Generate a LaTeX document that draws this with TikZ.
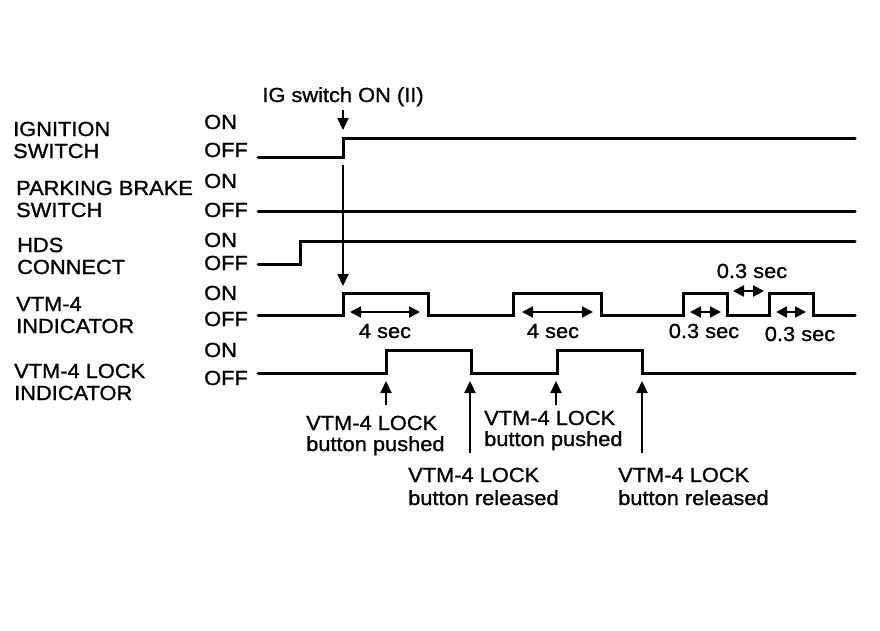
\documentclass[tikz,border=0pt]{standalone}
\usepackage{fontspec}
\setmainfont[FakeStretch=1.07,FakeBold=1.1]{Liberation Sans}
\usetikzlibrary{arrows.meta}
\begin{document}
\begin{tikzpicture}[x=1pt,y=-1pt,
  wave/.style={line width=3pt,line join=miter,line cap=round},
  lbl/.style={anchor=base west,inner sep=0pt,font=\fontsize{20.4}{22}\selectfont},
  st/.style={anchor=base west,inner sep=0pt,font=\fontsize{20.4}{22}\selectfont},
  sec/.style={anchor=base,inner sep=0pt,font=\fontsize{20.4}{22}\selectfont},
  bot/.style={anchor=base west,inner sep=0pt,font=\fontsize{20.4}{22}\selectfont},
  pt/.style={line width=2.2pt,-{Triangle[length=12pt,width=11pt]}},
  dim/.style={line width=2.2pt,{Triangle[length=11pt,width=11pt]}-{Triangle[length=11pt,width=11pt]}}]
\useasboundingbox (0,0) rectangle (880,630);
% left labels
\node[lbl] (l1a) at (13,136) {IGNITION};
\node[lbl] (l1b) at (13,158) {SWITCH};
\node[lbl] (l2a) at (16,195) {PARKING BRAKE};
\node[lbl] (l2b) at (16,217) {SWITCH};
\node[lbl] (l3a) at (17,252) {HDS};
\node[lbl] (l3b) at (17,274) {CONNECT};
\node[lbl] (l4a) at (16,311) {VTM-4};
\node[lbl] (l4b) at (16,333) {INDICATOR};
\node[lbl] (l5a) at (14,378) {VTM-4 LOCK};
\node[lbl] (l5b) at (14,400) {INDICATOR};
% ON/OFF
\node[st] (on1) at (204,129) {ON};
\node[st] (off1) at (204,157) {OFF};
\node[st] (on2) at (204,188) {ON};
\node[st] (off2) at (204,217) {OFF};
\node[st] (on3) at (204,247) {ON};
\node[st] (off3) at (204,270) {OFF};
\node[st] (on4) at (204,300) {ON};
\node[st] (off4) at (204,326) {OFF};
\node[st] (on5) at (204,357) {ON};
\node[st] (off5) at (204,385) {OFF};
% waveforms
\draw[wave] (258,157) -- (343,157) -- (343,138) -- (855,138);
\draw[wave] (258,211) -- (855,211);
\draw[wave] (258,264) -- (300,264) -- (300,241) -- (855,241);
\draw[wave] (258,315) -- (343,315) -- (343,293) -- (428,293) -- (428,315)
  -- (513,315) -- (513,293) -- (601,293) -- (601,315)
  -- (683,315) -- (683,293) -- (727,293) -- (727,315)
  -- (769,315) -- (769,293) -- (813,293) -- (813,315) -- (855,315);
\draw[wave] (258,373) -- (386,373) -- (386,350) -- (471,350) -- (471,373)
  -- (557,373) -- (557,350) -- (642,350) -- (642,373) -- (855,373);
% IG switch
\node[anchor=base,inner sep=0pt,font=\fontsize{20.4}{22}\selectfont] (ig) at (343,102) {IG switch ON (II)};
\coordinate (igtip) at (343,130);
\coordinate (vs) at (343,165);
\coordinate (vtip) at (343,286);
\draw[pt] (343,110) -- (igtip);
\draw[pt] (vs) -- (vtip);
% dimension arrows
\draw[dim] (350,312) -- (420,312);
\node[sec] (s1) at (385,338) {4 sec};
\draw[dim] (522,312) -- (593,312);
\node[sec] (s2) at (553,338) {4 sec};
\draw[dim] (690,312) -- (721,312);
\node[sec] (s3) at (704,338) {0.3 sec};
\draw[dim] (733,291) -- (764,291);
\node[sec] (s4) at (752,278) {0.3 sec};
\draw[dim] (776,312) -- (806,312);
\node[sec] (s5) at (800,341) {0.3 sec};
% bottom arrows
\draw[pt] (386,405) -- (386,381);
\draw[pt] (470,453) -- (470,381);
\draw[pt] (556,405) -- (556,381);
\draw[pt] (642,453) -- (642,381);
\node[bot] (p1a) at (306,430) {VTM-4 LOCK};
\node[bot] (p1b) at (306,451) {button pushed};
\node[bot] (p2a) at (484,425) {VTM-4 LOCK};
\node[bot] (p2b) at (484,446) {button pushed};
\node[bot] (r1a) at (408,482) {VTM-4 LOCK};
\node[bot] (r1b) at (408,505) {button released};
\node[bot] (r2a) at (618,482) {VTM-4 LOCK};
\node[bot] (r2b) at (618,505) {button released};
\end{tikzpicture}
\end{document}
